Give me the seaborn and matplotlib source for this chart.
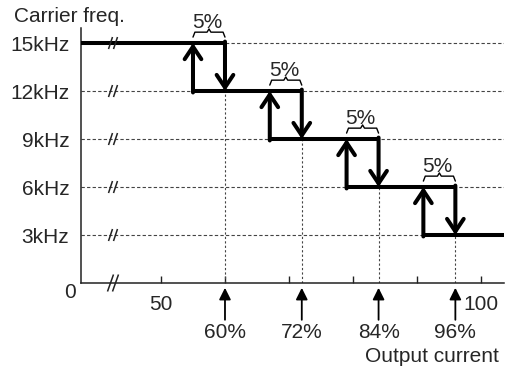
import matplotlib
matplotlib.use("Agg")
import matplotlib.pyplot as plt
import seaborn as sns
import pandas as pd

# ---- data ----
levels_khz = [15, 12, 9, 6, 3]              # carrier frequency steps
level_labels = ["15kHz", "12kHz", "9kHz", "6kHz", "3kHz"]
down_pct = [60, 72, 84, 96]                 # output current where freq drops
hysteresis = 5                              # % hysteresis band
xtick_vals = [50, 60, 70, 80, 90, 100]
xtick_labels = ["50", "", "", "", "", "100"]
x_min, x_max = 37.5, 103.6
y_max = 15.94
break_x = 42.5

sns.set_theme(style="white")
plt.rcParams['font.family'] = ['Liberation Sans', 'DejaVu Sans']
FS = 15

fig = plt.figure(figsize=(5.12, 3.66), dpi=100)
ax = fig.add_axes([81/512, 1-283/366, (504-81)/512, (283-28)/366])
ax.set_xlim(x_min, x_max)
ax.set_ylim(0, y_max)

# pixel -> data scale
px_x = (x_max - x_min) / (504 - 81)
px_y = y_max / (283 - 28)

# grid lines
grid_kw = dict(color='#444444', lw=0.8, ls=(0, (3, 2)), zorder=1)
for lv in levels_khz:
    ax.axhline(lv, **grid_kw)
vgrid_kw = dict(color='#444444', lw=0.8, ls=(0, (2, 2)), zorder=1)
for d, lv in zip(down_pct, levels_khz[1:]):
    ax.plot([d, d], [0, lv], **vgrid_kw)

# horizontal segments of the step curve
up_pct = [d - hysteresis for d in down_pct]
starts = [x_min] + up_pct
ends = down_pct + [x_max]
rows = []
for i, (s, e, lv) in enumerate(zip(starts, ends, levels_khz)):
    rows.append(dict(seg=i, x=s, y=lv))
    rows.append(dict(seg=i, x=e, y=lv))
df = pd.DataFrame(rows)
sns.lineplot(data=df, x='x', y='y', units='seg', estimator=None, sort=False,
             color='black', lw=2.9, ax=ax, zorder=3,
             solid_capstyle='butt')

# vertical arrows
arr = dict(arrowstyle='->,head_length=0.45,head_width=0.3', lw=2.9,
           color='black', shrinkA=0, shrinkB=0, mutation_scale=20,
           joinstyle='miter')
for d, u, hi, lo in zip(down_pct, up_pct, levels_khz[:-1], levels_khz[1:]):
    ax.annotate('', xy=(d, lo), xytext=(d, hi + 0.09), arrowprops=arr, zorder=4)
    ax.annotate('', xy=(u, hi), xytext=(u, lo - 0.09), arrowprops=arr, zorder=4)
    # brace and 5% label
    m = (u + d) / 2
    bx = [u, u + 0.3, m - 0.3, m, m + 0.3, d - 0.3, d]
    by = [hi + 0.37, hi + 0.68, hi + 0.68, hi + 0.88, hi + 0.68, hi + 0.68, hi + 0.37]
    ax.plot(bx, by, color='black', lw=1.0, zorder=4)
    ax.text(m - 0.3, hi + 1.3, f"{hysteresis}%", ha='center', va='center', fontsize=FS)

# break marks (two slanted strokes)
def break_mark(y, half_h, half_w):
    for off in (-2.5, 2.5):
        cx = break_x + off * px_x
        ax.plot([cx - half_w * px_x, cx + half_w * px_x],
                [y - half_h * px_y, y + half_h * px_y],
                color='#222222', lw=1.1, zorder=5, clip_on=False,
                solid_capstyle='butt')
for lv in levels_khz:
    break_mark(lv, 6, 2)
break_mark(0, 8.5, 3)

# bottom arrows with percentages
barr = dict(arrowstyle='-|>,head_length=0.7,head_width=0.35', lw=1.3,
            color='black', shrinkA=0, shrinkB=0, mutation_scale=10)
for d in down_pct:
    ax.annotate('', xy=(d, -0.3), xytext=(d, -2.3), arrowprops=barr,
                annotation_clip=False)
    ax.text(d, -3.1, f"{d}%", ha='center', va='center', fontsize=FS, clip_on=False)

# axes styling
for s in ['top', 'right']:
    ax.spines[s].set_visible(False)
for s in ['left', 'bottom']:
    ax.spines[s].set_color('#222222')
    ax.spines[s].set_linewidth(1.1)
ax.set_xticks(xtick_vals)
ax.set_xticklabels(xtick_labels, fontsize=FS)
ax.set_yticks(levels_khz)
ax.set_yticklabels(level_labels, fontsize=FS)
ax.tick_params(axis='x', direction='in', length=5, width=1, color='#222222', bottom=True, pad=9)
ax.tick_params(axis='y', length=0, pad=8.5)
ax.set_xlabel('')
ax.set_ylabel('')

fig.text(70/512, 1-293/366, "0", ha='center', va='center', fontsize=FS)
fig.text(14/512, 1-17/366, "Carrier freq.", ha='left', va='center', fontsize=FS)
fig.text(499/512, 1-356/366, "Output current", ha='right', va='center', fontsize=FS)

fig.savefig('out.png', dpi=100)
